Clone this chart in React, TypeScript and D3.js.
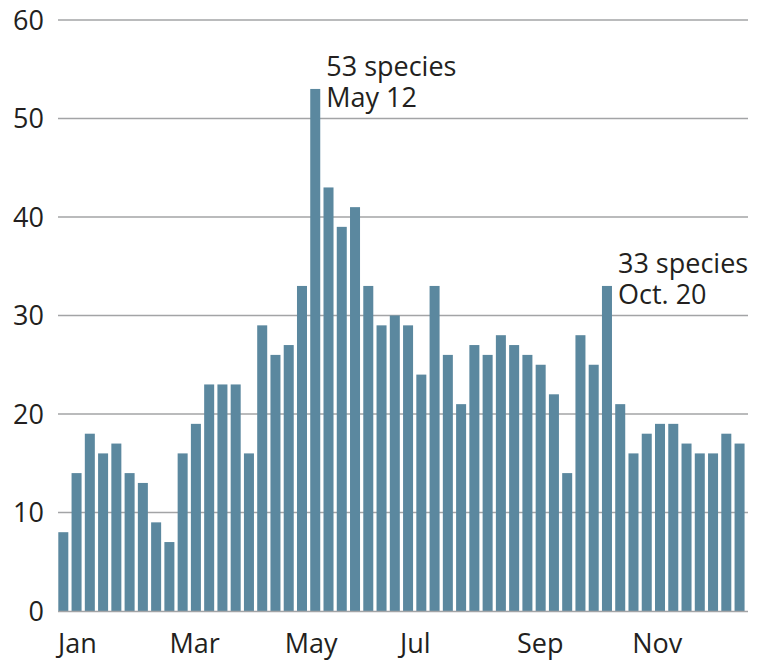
import React from 'react';
import * as d3 from 'd3';

// weekly species counts, one bar per week
const weeklySpecies = [
  8, 14, 18, 16, 17, 14, 13, 9, 7, 16, 19, 23, 23, 23, 16, 29, 26, 27, 33, 53,
  43, 39, 41, 33, 29, 30, 29, 24, 33, 26, 21, 27, 26, 28, 27, 26, 25, 22, 14, 28,
  25, 33, 21, 16, 18, 19, 19, 17, 16, 16, 18, 17,
];
const yTicks = [0, 10, 20, 30, 40, 50, 60];
const monthLabels = ['Jan', 'Mar', 'May', 'Jul', 'Sep', 'Nov'];
const monthStarts = ['2018-01-01', '2018-03-01', '2018-05-01', '2018-07-01', '2018-09-01', '2018-11-01'];
const annotations = [
  { week: 19, lines: ['53 species', 'May 12'] },
  { week: 41, lines: ['33 species', 'Oct. 20'] },
];

const W = 771;
const H = 661;
const FONT = '"Open Sans", "Noto Sans", sans-serif';

export default function App() {
  const left = 58;
  const right = 748;
  const top = 20;
  const bottom = 611;
  const step = 13.26;
  const pad = 0.245;

  const x = d3
    .scaleBand<number>()
    .domain(weeklySpecies.map((_, i) => i))
    .range([left + 0.3, left + 0.3 + step * (weeklySpecies.length - pad)])
    .paddingInner(pad)
    .paddingOuter(0)
    .align(0);

  const y = d3.scaleLinear().domain([0, 60]).range([bottom, top]);

  // month labels placed along the year
  const t = d3
    .scaleTime()
    .domain([new Date(2018, 0, 1), new Date(2019, 0, 1)])
    .range([left, left + 52 * step]);

  const annX = (i: number) => (x(i) ?? 0) + x.bandwidth() + 6;

  return (
    <svg
      width={W}
      height={H}
      style={{ position: 'absolute', left: 0, top: 0, background: '#fff' }}
      fontFamily={FONT}
    >
      {/* grid */}
      {yTicks.filter(d => d > 0).map(d => (
        <line key={d} x1={left} x2={right} y1={y(d)} y2={y(d)} stroke="#a3a4a6" strokeWidth={1.3} />
      ))}

      {/* bars */}
      {weeklySpecies.map((v, i) => (
        <rect key={i} x={x(i)} y={y(v)} width={x.bandwidth()} height={y(0) - y(v)} fill="#5b889f" />
      ))}

      {/* baseline */}
      <line x1={left} x2={right} y1={y(0) + 0.5} y2={y(0) + 0.5} stroke="#a3a4a6" strokeWidth={1.3} />

      {/* y tick labels */}
      {yTicks.map(d => (
        <text key={d} x={44} y={y(d)} dy="0.36em" textAnchor="end" fontSize={27} fill="#231f20">
          {d}
        </text>
      ))}

      {/* month labels */}
      {monthLabels.map((m, i) => {
        const [yy, mm, dd] = monthStarts[i].split('-').map(Number);
        return (
          <text key={m} x={t(new Date(yy, mm - 1, dd))} y={653} fontSize={27} fill="#231f20">
            {m}
          </text>
        );
      })}

      {/* annotations */}
      {annotations.map(a => (
        <text key={a.week} y={y(weeklySpecies[a.week]) - 13} fontSize={27} fill="#231f20">
          <tspan x={annX(a.week)} dy={0}>{a.lines[0]}</tspan>
          <tspan x={annX(a.week)} dy={31}>{a.lines[1]}</tspan>
        </text>
      ))}
    </svg>
  );
}
